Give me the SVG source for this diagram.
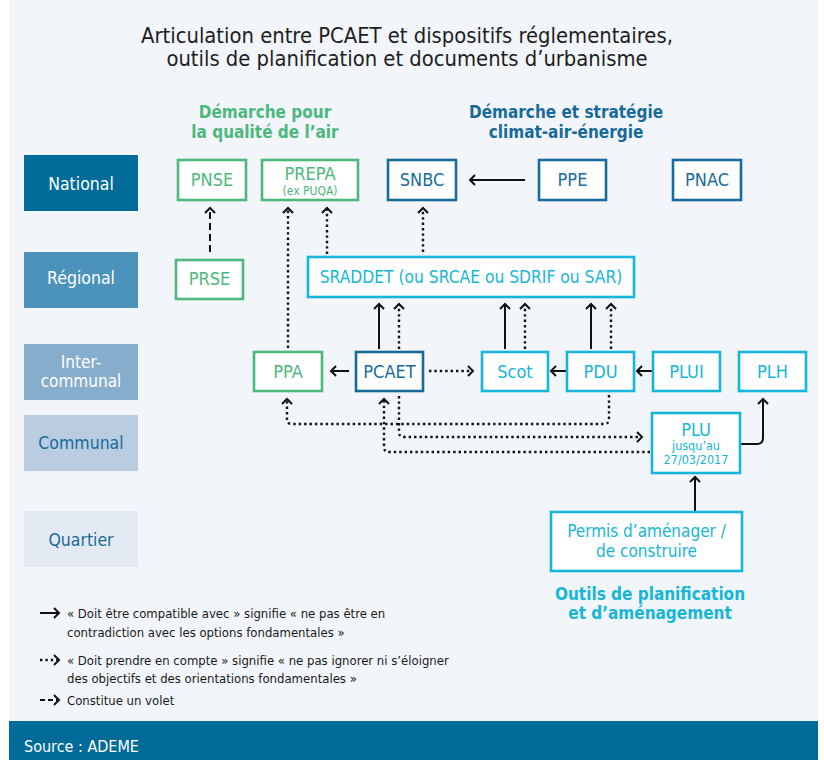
<svg xmlns="http://www.w3.org/2000/svg" width="824" height="760" viewBox="0 0 824 760">
<defs>
<style>
text{font-family:"DejaVu Sans Condensed","Liberation Sans",sans-serif}
.bg{fill:#f2f5f9}
.g{fill:#fff;stroke:#4cb87c;stroke-width:2.6}
.b{fill:#fff;stroke:#176b9a;stroke-width:2.6}
.c{fill:#fff;stroke:#16b6da;stroke-width:2.6}
.tg{fill:#4cb87c;font-size:18px;text-anchor:middle}
.tb{fill:#176b9a;font-size:18px;text-anchor:middle}
.tc{fill:#16b6da;font-size:18px;text-anchor:middle}
.lvl{font-size:17.5px;text-anchor:middle;fill:#fff}
.hd{font-size:17px;font-weight:bold;text-anchor:middle}
.leg{font-size:13px;fill:#1a1a1a}
.s{fill:none;stroke:#111;stroke-width:2}
.d{fill:none;stroke:#111;stroke-width:2.4;stroke-dasharray:2.4 3}
.da{fill:none;stroke:#111;stroke-width:2;stroke-dasharray:7 4}
</style>
<marker id="ah" markerUnits="userSpaceOnUse" markerWidth="14" markerHeight="14" viewBox="-7 -7 14 14" refX="0" refY="0" orient="auto">
<path d="M-5,-5 L0,0 L-5,5" fill="none" stroke="#111" stroke-width="2" stroke-dasharray="none"/>
</marker>
</defs>
<rect x="0" y="0" width="824" height="760" fill="#fff"/>
<rect class="bg" x="9" y="0" width="809" height="721"/>
<rect x="9" y="721" width="809" height="39" fill="#006b99"/>
<text x="24" y="752" font-size="16" fill="#fff">Source : ADEME</text>

<g id="title">
<text x="407" y="43" font-size="21.8" fill="#1e1e1e" text-anchor="middle">Articulation entre PCAET et dispositifs réglementaires,</text>
<text x="407" y="66" font-size="21.8" fill="#1e1e1e" text-anchor="middle">outils de planification et documents d’urbanisme</text>
</g>

<g id="levels">
<g id="lvl-national"><rect x="24" y="155" width="114" height="56" fill="#006c9a"/><text class="lvl" x="81" y="190">National</text></g>
<g id="lvl-regional"><rect x="24" y="252" width="114" height="56" fill="#4b93ba"/><text class="lvl" x="81" y="284">Régional</text></g>
<g id="lvl-intercommunal"><rect x="24" y="344" width="114" height="56" fill="#87adcc"/><text class="lvl" x="81" y="368" style="font-size:17px">Inter-</text><text class="lvl" x="81" y="387" style="font-size:17px">communal</text></g>
<g id="lvl-communal"><rect x="24" y="415" width="114" height="56" fill="#b9cce0"/><text class="lvl" x="81" y="449" style="fill:#176b9a">Communal</text></g>
<g id="lvl-quartier"><rect x="24" y="511" width="114" height="56" fill="#e4eaf3"/><text class="lvl" x="81" y="546" style="fill:#176b9a">Quartier</text></g>
</g>

<g id="headers">
<text class="hd" x="265" y="118" fill="#4cb87c">Démarche pour</text>
<text class="hd" x="265" y="138" fill="#4cb87c">la qualité de l’air</text>
<text class="hd" x="566" y="118" fill="#176b9a">Démarche et stratégie</text>
<text class="hd" x="566" y="138" fill="#176b9a">climat-air-énergie</text>
<text class="hd" x="650" y="600" fill="#16b6da">Outils de planification</text>
<text class="hd" x="650" y="619" fill="#16b6da">et d’aménagement</text>
</g>

<g id="connectors">
<path class="s" d="M525,180 H470" marker-end="url(#ah)"/>
<path class="da" d="M210,252 V208" marker-end="url(#ah)"/>
<path class="d" d="M288,348 V208" marker-end="url(#ah)"/>
<path class="d" d="M327,254 V208" marker-end="url(#ah)"/>
<path class="d" d="M423,252 V208" marker-end="url(#ah)"/>
<path class="s" d="M379,349 V304" marker-end="url(#ah)"/>
<path class="d" d="M399,349 V304" marker-end="url(#ah)"/>
<path class="s" d="M505,349 V304" marker-end="url(#ah)"/>
<path class="d" d="M525,349 V304" marker-end="url(#ah)"/>
<path class="s" d="M591,349 V304" marker-end="url(#ah)"/>
<path class="d" d="M611,349 V304" marker-end="url(#ah)"/>
<path class="s" d="M349,371 H331" marker-end="url(#ah)"/>
<path class="d" d="M429,371 H473" marker-end="url(#ah)"/>
<path class="s" d="M566,371 H551" marker-end="url(#ah)"/>
<path class="s" d="M652,371 H637" marker-end="url(#ah)"/>
<path class="d" d="M609,395 V419 Q609,424 604,424 H292 Q287,424 287,419 V399" marker-end="url(#ah)"/>
<path class="d" d="M399,396 V432 Q399,437 404,437 H642" marker-end="url(#ah)"/>
<path class="d" d="M650,452 H389 Q384,452 384,447 V399" marker-end="url(#ah)"/>
<path class="s" d="M741,444 H757 Q763,444 763,438 V399" marker-end="url(#ah)"/>
<path class="s" d="M695,511 V477" marker-end="url(#ah)"/>
</g>

<g id="PNSE"><rect class="g" x="178" y="160" width="68" height="40"/><text class="tg" x="212" y="186">PNSE</text></g>
<g id="PREPA"><rect class="g" x="262" y="160" width="96" height="40"/><text class="tg" x="310" y="180">PREPA</text><text class="tg" x="310" y="195" style="font-size:12px">(ex PUQA)</text></g>
<g id="SNBC"><rect class="b" x="388" y="160" width="68" height="40"/><text class="tb" x="422" y="186">SNBC</text></g>
<g id="PPE"><rect class="b" x="539" y="160" width="67" height="40"/><text class="tb" x="572.5" y="186">PPE</text></g>
<g id="PNAC"><rect class="b" x="673" y="160" width="68" height="40"/><text class="tb" x="707" y="186">PNAC</text></g>
<g id="PRSE"><rect class="g" x="176" y="260" width="67" height="39"/><text class="tg" x="209.5" y="285">PRSE</text></g>
<g id="SRADDET"><rect class="c" x="308" y="257" width="326" height="40"/><text class="tc" x="471" y="283" style="font-size:17.3px">SRADDET (ou SRCAE ou SDRIF ou SAR)</text></g>
<g id="PPA"><rect class="g" x="254" y="352" width="68" height="39"/><text class="tg" x="288" y="378">PPA</text></g>
<g id="PCAET"><rect class="b" x="356" y="352" width="67" height="39"/><text class="tb" x="389.5" y="378">PCAET</text></g>
<g id="Scot"><rect class="c" x="482" y="352" width="66" height="39"/><text class="tc" x="515" y="378">Scot</text></g>
<g id="PDU"><rect class="c" x="567" y="352" width="67" height="39"/><text class="tc" x="600.5" y="378">PDU</text></g>
<g id="PLUI"><rect class="c" x="653" y="352" width="67" height="39"/><text class="tc" x="686.5" y="378">PLUI</text></g>
<g id="PLH"><rect class="c" x="739" y="352" width="67" height="39"/><text class="tc" x="772.5" y="378">PLH</text></g>
<g id="PLU"><rect class="c" x="652" y="413" width="88" height="60"/><text class="tc" x="696" y="436">PLU</text><text class="tc" x="696" y="450" style="font-size:12.5px">jusqu’au</text><text class="tc" x="696" y="464" style="font-size:12.5px">27/03/2017</text></g>
<g id="Permis"><rect class="c" x="551" y="512" width="191" height="59"/><text class="tc" x="646.5" y="537" style="font-size:17px">Permis d’aménager /</text><text class="tc" x="646.5" y="557" style="font-size:17px">de construire</text></g>

<g id="legend">
<path class="s" d="M40,613 H59" marker-end="url(#ah)"/>
<text class="leg" x="67" y="618">« Doit être compatible avec » signifie « ne pas être en</text>
<text class="leg" x="67" y="637">contradiction avec les options fondamentales »</text>
<path class="d" d="M40,660 H59" marker-end="url(#ah)"/>
<text class="leg" x="67" y="665">« Doit prendre en compte » signifie « ne pas ignorer ni s’éloigner</text>
<text class="leg" x="67" y="683">des objectifs et des orientations fondamentales »</text>
<path class="da" d="M40,700 H59" marker-end="url(#ah)" style="stroke-dasharray:5 3"/>
<text class="leg" x="67" y="705">Constitue un volet</text>
</g>
</svg>
